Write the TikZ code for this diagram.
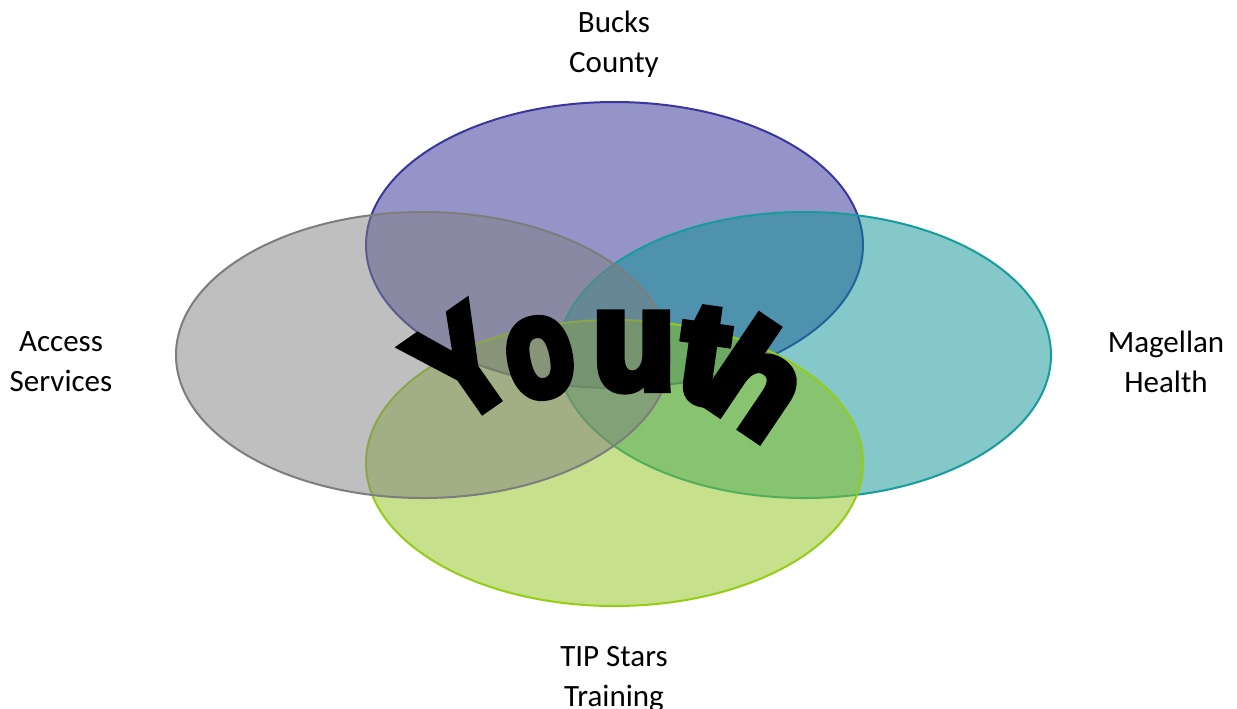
\documentclass[tikz,border=0pt]{standalone}
\usepackage{fontspec}
\setmainfont{Carlito}
\newfontfamily\youthfont{Liberation Sans Bold}[FakeBold=7]

\definecolor{bucksfill}{RGB}{43,41,145}
\definecolor{buckline}{RGB}{58,54,160}
\definecolor{magfill}{RGB}{9,145,147}
\definecolor{magline}{RGB}{22,156,156}
\definecolor{tipfill}{RGB}{141,193,25}
\definecolor{tipline}{RGB}{148,204,22}
\definecolor{accfill}{RGB}{127,127,127}
\definecolor{accline}{RGB}{125,125,125}

\tikzset{
  circ/.style={line width=1pt, fill opacity=0.5},
  lbl/.style={align=center, font=\fontsize{15.5}{20}\selectfont},
  letter/.style={inner sep=0pt, font=\youthfont\fontsize{70}{70}\selectfont}
}

\begin{document}
\begin{tikzpicture}[x=0.5pt,y=-0.5pt]
\useasboundingbox (0,0) rectangle (1237,708);

% the four overlapping sets, clockwise from the top
\draw[circ, draw=buckline, fill=bucksfill] (614.5,245) ellipse [x radius=248.5, y radius=143];
\draw[circ, draw=magline, fill=magfill] (804.5,355) ellipse [x radius=246.5, y radius=143];
\draw[circ, draw=tipline, fill=tipfill] (614.5,463) ellipse [x radius=248.5, y radius=143];
\draw[circ, draw=accline, fill=accfill] (423,355) ellipse [x radius=247, y radius=143];

\node[lbl] (bucks) at (614,44) {Bucks\\County};
\node[lbl] (magellan) at (1166,362) {Magellan\\Health};
\node[lbl] (tip) at (614,679) {TIP Stars\\Training};
\node[lbl] (access) at (61,362) {Access\\Services};

% arched word in the middle
\node[letter, rotate=35, xscale=0.85] (y) at (462,365) {Y};
\node[letter, rotate=12, xscale=0.78] (o) at (540,358) {o};
\node[letter, xscale=0.95] (u) at (634,352) {u};
\node[letter, rotate=-8] (t) at (704,356) {t};
\node[letter, rotate=-34] (h) at (759,378) {h};
\end{tikzpicture}
\end{document}
